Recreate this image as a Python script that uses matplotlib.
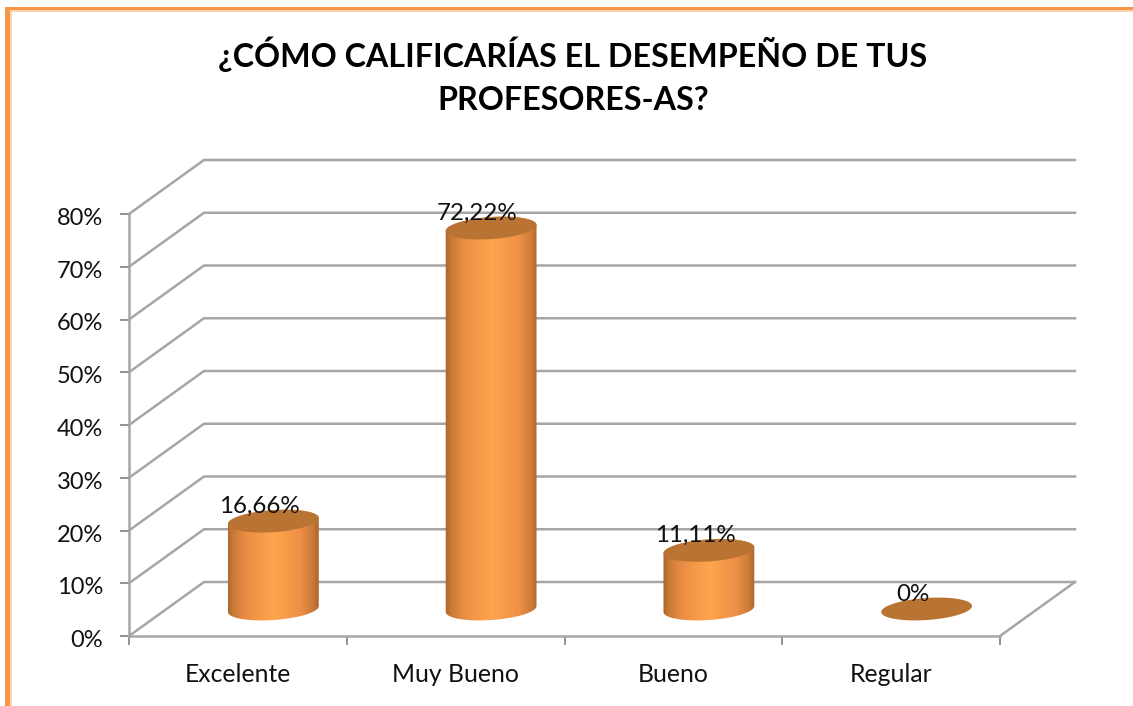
import numpy as np
import matplotlib
matplotlib.use('Agg')
import matplotlib.pyplot as plt
from matplotlib.colors import LinearSegmentedColormap
from matplotlib.patches import Polygon, Rectangle
from matplotlib.transforms import ScaledTranslation

categories = ['Excelente', 'Muy Bueno', 'Bueno', 'Regular']
value_labels = ['16,66%', '72,22%', '11,11%', '0%']
values = [16.66, 72.22, 11.11, 0]
y_ticks = [0, 10, 20, 30, 40, 50, 60, 70, 80]
title = '¿CÓMO CALIFICARÍAS EL DESEMPEÑO DE TUS\nPROFESORES-AS?'

W, H = 1133, 706
GRID = '#a6a6a6'
plt.rcParams['font.family'] = ['Lato', 'DejaVu Sans']

fig = plt.figure(figsize=(W / 100, H / 100), dpi=100, facecolor='white')
ax = fig.add_axes([129 / W, 1 - 636 / H, 871 / W, 422 / H])
ax.set_xlim(0, 4)
ax.set_ylim(0, 80)

# tamano de un pixel en unidades de datos
px_x = 4 / 871
px_y = 80 / 422
depth_x = 75 * px_x
depth_y = 54 * px_y

# paredes del grafico
for v in y_ticks:
    ax.plot([0, depth_x, 4 + depth_x], [v, v + depth_y, v + depth_y],
            color=GRID, lw=1.8, clip_on=False, zorder=1)
ax.plot([4, 4 + depth_x], [0, depth_y], color=GRID, lw=1.8, clip_on=False, zorder=1)

for s in ['top', 'right']:
    ax.spines[s].set_visible(False)
for s in ['left', 'bottom']:
    ax.spines[s].set_color(GRID)
    ax.spines[s].set_linewidth(1.8)
ax.set_xticks(range(5))
ax.set_xticklabels([])
ax.set_xticks([i + 0.5 for i in range(4)], minor=True)
ax.set_xticklabels(categories, minor=True, fontsize=17.8, color='#111111')
ax.set_yticks(y_ticks)
ax.set_yticklabels(['{}%'.format(v) for v in y_ticks], fontsize=17, color='#111111')
ax.tick_params(axis='x', which='major', length=6.5, width=1.2, color='#808080')
ax.tick_params(axis='x', which='minor', length=0, pad=19.5)
ax.tick_params(axis='y', length=6.5, width=1.2, color='#808080', pad=12)
for lab in ax.get_yticklabels():
    lab.set_transform(lab.get_transform() + ScaledTranslation(0, -2.5 / 100, fig.dpi_scale_trans))

cmap = LinearSegmentedColormap.from_list('cyl', [
    (0.0, '#ab642d'), (0.06, '#c67936'), (0.2, '#ea8d44'), (0.5, '#ffa54d'),
    (0.8, '#ee9045'), (0.94, '#c87a37'), (1.0, '#ab642d')])
gradient = np.linspace(0, 1, 256).reshape(1, -1)


# elipse inclinada, los ejes se dan en pixeles
def ellipse(cx, cy, t):
    a, b, tilt = 45.5, 11, np.radians(4)
    x = a * np.cos(t) * np.cos(tilt) - b * np.sin(t) * np.sin(tilt)
    y = a * np.cos(t) * np.sin(tilt) + b * np.sin(t) * np.cos(tilt)
    return np.column_stack([cx + x * px_x, cy + y * px_y])


for i, h in enumerate(values):
    cx = i + 0.5 + depth_x / 2 - 2 * px_x
    base = depth_y / 2
    top = base + h
    if h > 0:
        upper = ellipse(cx, top, np.linspace(0, np.pi, 60))
        lower = ellipse(cx, base, np.linspace(np.pi, 2 * np.pi, 60))
        body = Polygon(np.vstack([upper, lower]), closed=True, transform=ax.transData,
                       fc='none', ec='none')
        ax.add_patch(body)
        img = ax.imshow(gradient, cmap=cmap, aspect='auto', zorder=3,
                        extent=[cx - 46 * px_x, cx + 46 * px_x, base - 14 * px_y, top + 14 * px_y])
        img.set_clip_path(body)
    cap = Polygon(ellipse(cx, top, np.linspace(0, 2 * np.pi, 120)), closed=True,
                  fc='#b97434', ec='none', zorder=4, clip_on=False)
    ax.add_patch(cap)
    ax.annotate(value_labels[i], (cx, top), xytext=(-10, 10.5), textcoords='offset points',
                ha='center', va='center', fontsize=17.4, color='#111111', zorder=5,
                annotation_clip=False)

ax.set_xlim(0, 4)
ax.set_ylim(0, 80)

fig.text(573 / W, 1 - 76 / H, title, ha='center', va='center', fontsize=23.2,
         fontweight='bold', color='black', linespacing=1.6)

# marco naranja de la imagen
fig.add_artist(Rectangle((10 / W, 0), 1.5 / W, 1 - 10 / H, transform=fig.transFigure,
                         fc='#fcd5b4', ec='none'))
fig.add_artist(Rectangle((10 / W, 1 - 11.5 / H), 1 - 10 / W, 1.5 / H, transform=fig.transFigure,
                         fc='#fcd5b4', ec='none'))
fig.add_artist(Rectangle((5 / W, 0), 5 / W, 1 - 7 / H, transform=fig.transFigure,
                         fc='#f79646', ec='none'))
fig.add_artist(Rectangle((5 / W, 1 - 10 / H), 1 - 5 / W, 3 / H, transform=fig.transFigure,
                         fc='#f79646', ec='none'))

fig.savefig('out.png', dpi=100)
